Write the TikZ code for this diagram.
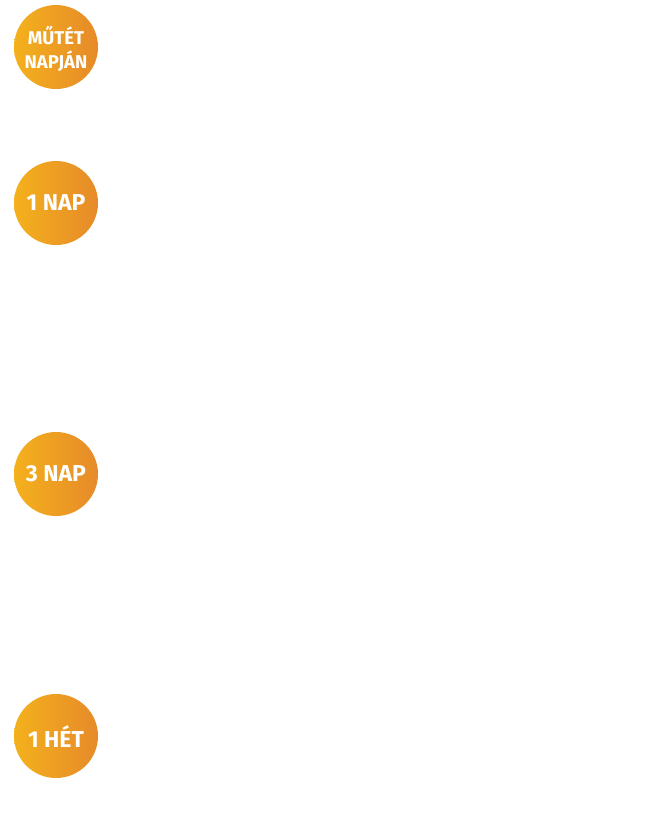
\documentclass[tikz,border=0pt]{standalone}
\usepackage{fontspec}
\setmainfont{Fira Sans}
\definecolor{gl}{HTML}{F4B11C}
\definecolor{gr}{HTML}{E68A2A}
\begin{document}
\begin{tikzpicture}[x=1pt,y=1pt,
  badge/.style={circle,minimum size=84pt,inner sep=0pt,left color=gl,right color=gr,
    text=white,font=\fontsize{23}{25}\selectfont\bfseries,align=center,text depth=0pt},
  badgesmall/.style={badge,font=\fontsize{18.5}{24}\selectfont\bfseries,text depth=0pt}]
\useasboundingbox (0,0) rectangle (650,-820);
\node[badgesmall] (d0) at (56,-47) {MŰTÉT\\NAPJÁN};
\node[badge] (d1) at (56,-203) {1 NAP};
\node[badge] (d3) at (56,-474) {3 NAP};
\node[badge] (w1) at (56,-736) {1 HÉT};
\end{tikzpicture}
\end{document}
